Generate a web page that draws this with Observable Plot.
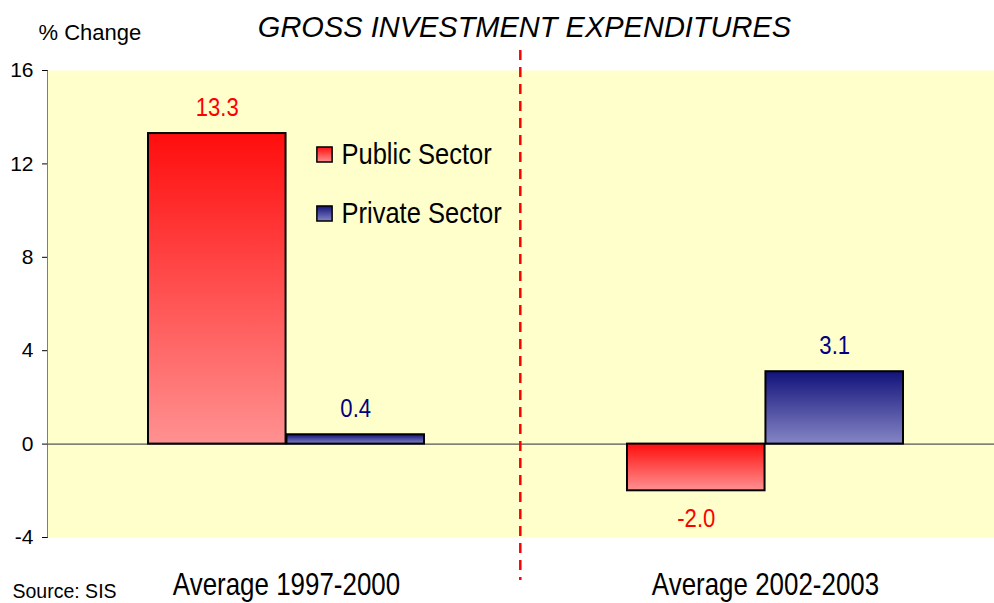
<!DOCTYPE html>
<html>
<head>
<meta charset="utf-8">
<script src="https://cdn.jsdelivr.net/npm/d3@7"></script>
<script src="https://cdn.jsdelivr.net/npm/@observablehq/plot@0.6"></script>
<style>
  html, body { margin: 0; padding: 0; background: #fff; }
  #chart svg { display: block; }
  #chart g[aria-label^="y-axis"] text { font-size: 21px; font-family: "Liberation Sans", Arial, sans-serif; fill: #000; }
  #chart g[aria-label^="x-axis"] text { font-size: 30.5px; font-family: "Liberation Sans", Arial, sans-serif; fill: #000; }
</style>
</head>
<body>
<div id="chart"></div>
<script>
// ---- data ----
const categories = ["Average 1997-2000", "Average 2002-2003"];
const seriesNames = ["Public Sector", "Private Sector"];
const publicSector = [13.3, -2.0];
const privateSector = [0.4, 3.1];
const yTicks = [-4, 0, 4, 8, 12, 16];
const titleText = "GROSS INVESTMENT EXPENDITURES";
const yUnitText = "% Change";
const sourceText = "Source: SIS";

// ---- layout ----
const W = 994, H = 603;
const narrow = '"Liberation Sans", Arial, sans-serif ';  // trailing space marks narrowed text
const regular = '"Liberation Sans", Arial, sans-serif';
const narrowFactor = 0.85;
const pubRows = categories.map((c, i) => ({group: c, sector: seriesNames[0], value: publicSector[i]}));
const privRows = categories.map((c, i) => ({group: c, sector: seriesNames[1], value: privateSector[i]}));

const xRange = [47, 1005.3], pIn = 0.423, pOut = 0.21;
const step = (xRange[1] - xRange[0]) / (categories.length - pIn + 2 * pOut);
const half = step * (1 - pIn) / 2;

const fills = {"Public Sector": "url(#gradPublic)", "Private Sector": "url(#gradPrivate)"};
const labelColors = {"Public Sector": "#ff0000", "Private Sector": "#000080"};

function valueLabels(rows, side, color) {
  const common = {x: "group", y: "value", text: d => d.value.toFixed(1), dx: side * half / 2,
    fill: color, fontSize: 26, fontFamily: narrow};
  return [
    Plot.text(rows.filter(d => d.value >= 0), {...common, dy: -18, lineAnchor: "bottom"}),
    Plot.text(rows.filter(d => d.value < 0), {...common, dy: 18, lineAnchor: "top"})
  ];
}

const plot = Plot.plot({
  width: W,
  height: H,
  marginLeft: 47,
  marginRight: 0,
  marginTop: 70,
  marginBottom: 66,
  style: {background: "#fff", fontFamily: regular, overflow: "visible"},
  x: {type: "band", domain: categories, range: xRange, paddingInner: pIn, paddingOuter: pOut, align: 0.5,
      label: null, tickSize: 0, tickPadding: 36},
  y: {domain: [-4, 16], ticks: yTicks, tickFormat: d => String(d), tickSize: 5, tickPadding: 9, label: null, line: true},
  marks: [
    Plot.frame({fill: "#ffffcc", stroke: "none"}),
    Plot.ruleY([0], {stroke: "#555", strokeWidth: 1.2}),
    Plot.barY(pubRows, {x: "group", y: "value", fill: fills["Public Sector"], stroke: "#000", strokeWidth: 2, insetRight: half}),
    Plot.barY(privRows, {x: "group", y: "value", fill: fills["Private Sector"], stroke: "#000", strokeWidth: 2, insetLeft: half}),
    ...valueLabels(pubRows, -1, labelColors["Public Sector"]),
    ...valueLabels(privRows, 1, labelColors["Private Sector"]),
    // dashed separator
    Plot.ruleX([categories[0]], {x: d => d, dx: 233.8, stroke: "#ff0000", strokeWidth: 2.5, strokeDasharray: "10,7",
      insetTop: -20, insetBottom: -43}),
    // legend
    ...seriesNames.map((name, i) => Plot.dot([name], {frameAnchor: "top-left", dx: 277, dy: 84 + i * 59, symbol: "square",
      r: 8.6, fill: fills[name], stroke: "#000", strokeWidth: 1.5})),
    ...seriesNames.map((name, i) => Plot.text([name], {frameAnchor: "top-left", dx: 294, dy: 84 + i * 59, text: d => d,
      textAnchor: "start", lineAnchor: "middle", fontSize: 30, fontFamily: narrow, fill: "#000"})),
    // title and notes
    Plot.text([titleText], {frameAnchor: "top", dx: 3.5, dy: -34, text: d => d, lineAnchor: "bottom",
      fontSize: 29, fontStyle: "italic", fontFamily: regular, fill: "#000"}),
    Plot.text([yUnitText], {frameAnchor: "top-left", dx: -9, dy: -31, text: d => d, lineAnchor: "bottom", textAnchor: "start",
      fontSize: 22, fontFamily: regular, fill: "#000", letterSpacing: 1}),
    Plot.text([sourceText], {frameAnchor: "bottom-left", dx: -35, dy: 60, text: d => d, lineAnchor: "bottom", textAnchor: "start",
      fontSize: 19.5, fontFamily: regular, fill: "#000", letterSpacing: 0.7})
  ]
});

// gradients
const svgEl = plot.tagName.toLowerCase() === "svg" ? plot : plot.querySelector("svg");
const svg = d3.select(svgEl);
const defs = svg.insert("defs", ":first-child");
function grad(id, top, bottom) {
  const g = defs.append("linearGradient").attr("id", id).attr("x1", 0).attr("y1", 0).attr("x2", 0).attr("y2", 1);
  g.append("stop").attr("offset", "0%").attr("stop-color", top);
  g.append("stop").attr("offset", "100%").attr("stop-color", bottom);
}
grad("gradPublic", "#ff0d0d", "#ff9191");
grad("gradPrivate", "#12127a", "#8585c6");

document.getElementById("chart").appendChild(plot);

// condensed look (Arial Narrow style): compress the marked texts horizontally
const narrowTexts = [];
svg.selectAll("g").each(function () {
  const ff = this.getAttribute("font-family");
  if (ff === narrow) d3.select(this).selectAll("text").each(function () { narrowTexts.push(this); });
});
svg.selectAll('g[aria-label^="x-axis"] text').each(function () { narrowTexts.push(this); });
narrowTexts.forEach(t => {
  const len = t.getComputedTextLength();
  if (len > 0) {
    t.setAttribute("textLength", len * narrowFactor);
    t.setAttribute("lengthAdjust", "spacingAndGlyphs");
  }
});
</script>
</body>
</html>
